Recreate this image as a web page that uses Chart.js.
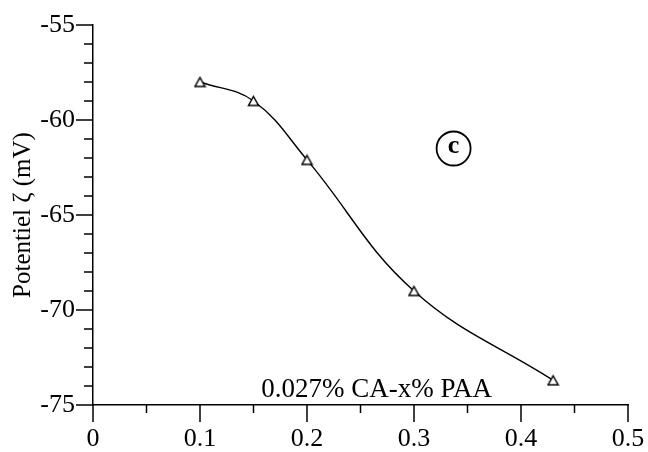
<!DOCTYPE html>
<html>
<head>
<meta charset="utf-8">
<script src="https://cdn.jsdelivr.net/npm/chart.js@4"></script>
<style>
  html, body { margin: 0; padding: 0; background: #fff; }
  #wrap { width: 648px; height: 452px; }
</style>
</head>
<body>
<div id="wrap"><canvas id="myChart"></canvas></div>
<script>
let paaConc = [0.1, 0.15, 0.2, 0.3, 0.43];
let zeta = [-58, -59, -62.1, -69, -73.7];
let xTicks = [0, 0.1, 0.2, 0.3, 0.4, 0.5];
let yTicks = [-75, -70, -65, -60, -55];
let seriesLabel = '0.027% CA-x% PAA';
let panelTag = 'c';

let serif = "'Liberation Serif', 'DejaVu Serif', serif";

// little open triangle for the points
let tri = document.createElement('canvas');
tri.width = 13; tri.height = 13;
let tc = tri.getContext('2d');
tc.strokeStyle = '#000';
tc.lineWidth = 1.5;
tc.beginPath();
tc.moveTo(6.5, 2); tc.lineTo(11.5, 11); tc.lineTo(1.5, 11); tc.closePath();
tc.fillStyle = '#fff';
tc.fill();
tc.stroke();

// ticks (major + minor) and the two annotations
let extras = {
  id: 'extras',
  afterDraw(chart) {
    let ctx = chart.ctx;
    let xs = chart.scales.x, ys = chart.scales.y;
    ctx.save();
    ctx.strokeStyle = '#000';
    ctx.lineWidth = 1.5;
    for (let v = yTicks[0]; v <= yTicks[yTicks.length - 1]; v++) {
      let py = ys.getPixelForValue(v);
      let len = yTicks.includes(v) ? 17 : 9;
      ctx.beginPath();
      ctx.moveTo(xs.left - len, py);
      ctx.lineTo(xs.left, py);
      ctx.stroke();
    }
    for (let i = 0; i <= 10; i++) {
      let px = xs.getPixelForValue(i * 0.05);
      let len = (i % 2 === 0) ? 17 : 8;
      ctx.beginPath();
      ctx.moveTo(px, ys.bottom);
      ctx.lineTo(px, ys.bottom + len);
      ctx.stroke();
    }
    ctx.fillStyle = '#000';
    ctx.font = '27px ' + serif;
    ctx.textAlign = 'center';
    ctx.textBaseline = 'alphabetic';
    ctx.fillText(seriesLabel, xs.getPixelForValue(0.265), ys.getPixelForValue(-74.6));
    let cx = xs.getPixelForValue(0.337), cy = ys.getPixelForValue(-61.5);
    ctx.lineWidth = 1.8;
    ctx.beginPath();
    ctx.arc(cx, cy, 17, 0, Math.PI * 2);
    ctx.stroke();
    ctx.font = 'bold 26px ' + serif;
    ctx.textBaseline = 'middle';
    ctx.fillText(panelTag, cx, cy - 2);
    ctx.restore();
  }
};

let myChart = document.getElementById('myChart').getContext('2d');

let chart = new Chart(myChart, {
  type: 'scatter',
  data: {
    datasets: [{
      data: paaConc.map((x, i) => ({ x: x, y: zeta[i] })),
      showLine: true,
      borderColor: '#000',
      borderWidth: 1.4,
      tension: 0.4,
      pointStyle: tri,
      pointRadius: 6,
      pointHoverRadius: 6
    }]
  },
  options: {
    responsive: true,
    maintainAspectRatio: false,
    animation: false,
    layout: { padding: { top: 25, right: 20, left: 0, bottom: 0 } },
    plugins: {
      legend: { display: false },
      tooltip: { enabled: false }
    },
    scales: {
      x: {
        type: 'linear',
        min: 0,
        max: 0.5,
        afterBuildTicks: s => { s.ticks = xTicks.map(v => ({ value: v })); },
        afterFit: s => { s.height = 47; s.paddingLeft = 0; s.paddingRight = 0; },
        grid: { display: false, drawTicks: false },
        border: { display: true, color: '#000', width: 1.5 },
        ticks: {
          color: '#000',
          padding: 19,
          font: { family: serif, size: 26 },
          callback: v => String(v)
        }
      },
      y: {
        type: 'linear',
        min: -75,
        max: -55,
        afterBuildTicks: s => { s.ticks = yTicks.map(v => ({ value: v })); },
        afterFit: s => { s.width = 93; s.paddingTop = 0; s.paddingBottom = 0; },
        grid: { display: false, drawTicks: false },
        border: { display: true, color: '#000', width: 1.5 },
        title: {
          display: true,
          text: 'Potentiel ζ (mV)',
          color: '#000',
          font: { family: serif, size: 25 },
          padding: { top: 8, bottom: 0 }
        },
        ticks: {
          color: '#000',
          padding: 18,
          font: { family: serif, size: 26 }
        }
      }
    }
  },
  plugins: [extras]
});
</script>
</body>
</html>
